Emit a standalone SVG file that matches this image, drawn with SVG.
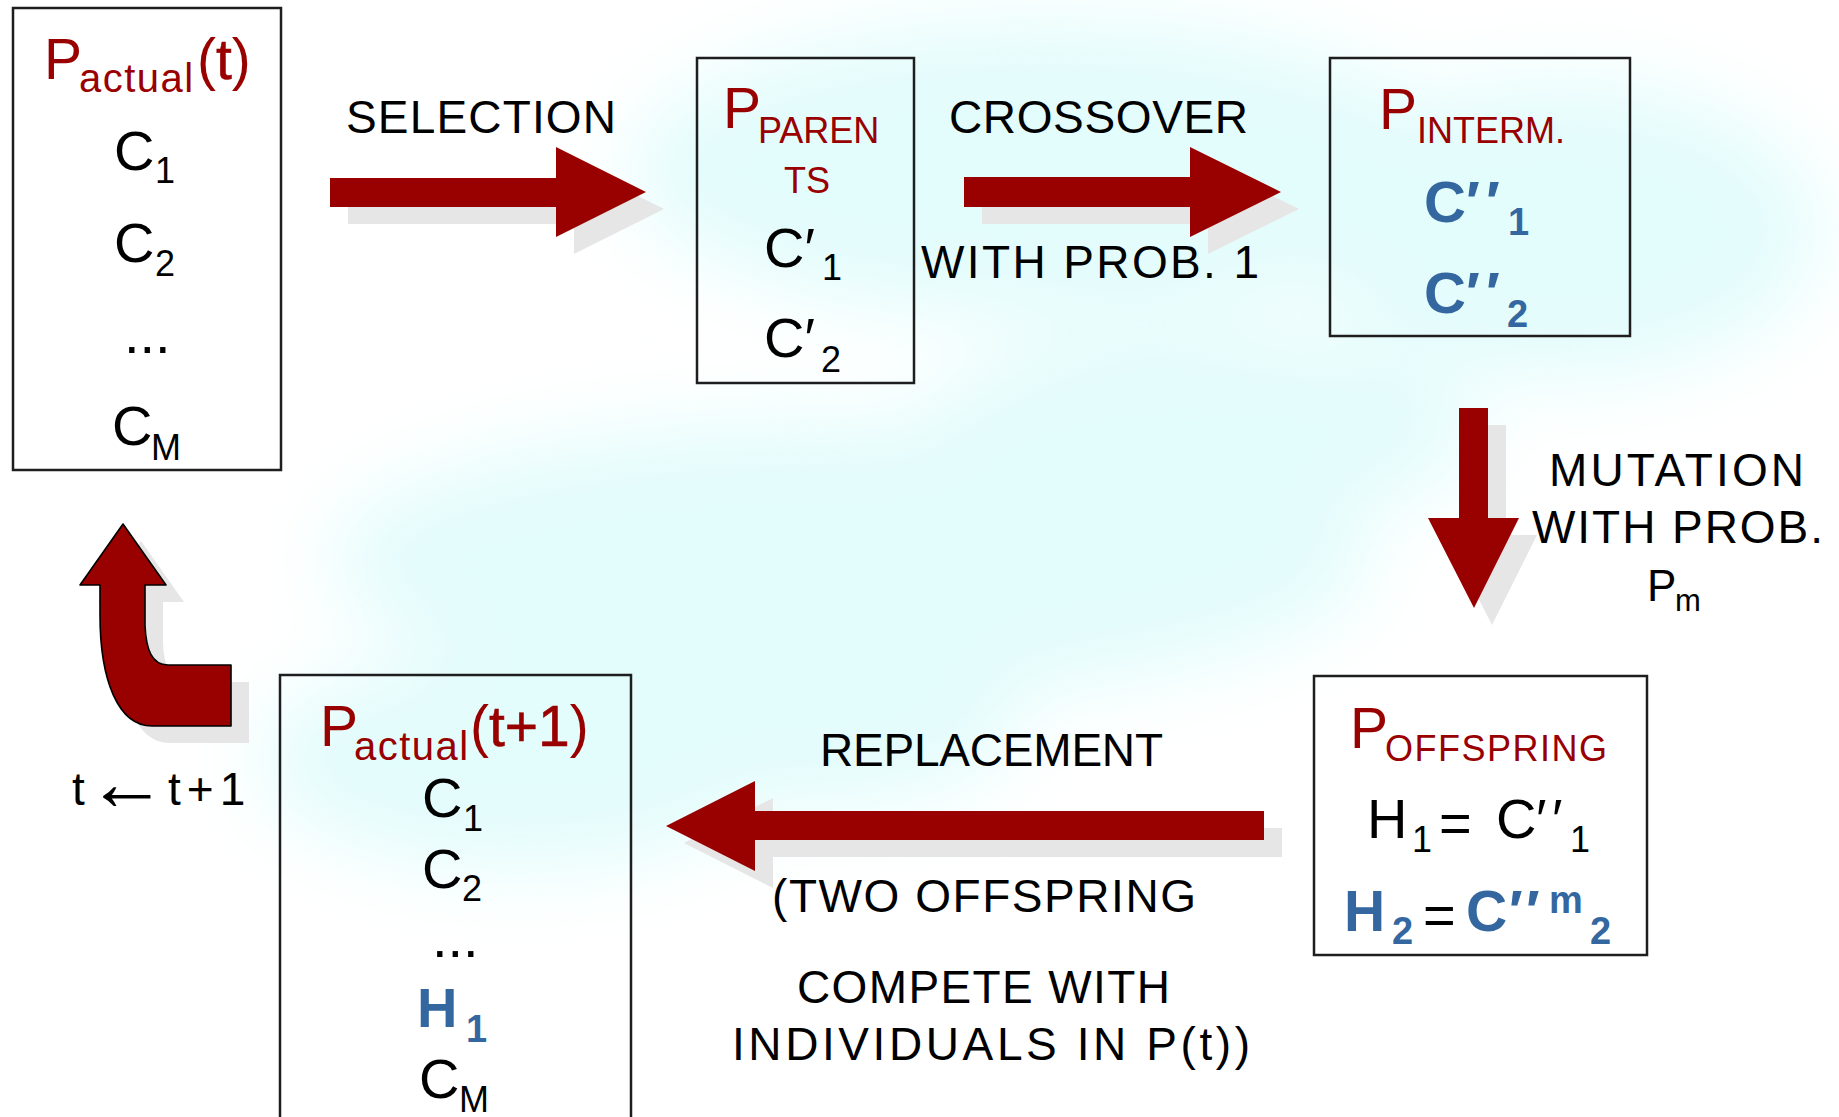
<svg xmlns="http://www.w3.org/2000/svg" width="1839" height="1117" viewBox="0 0 1839 1117">
<defs>
<style>
.t{font-family:"Liberation Sans",Arial,sans-serif;fill:#000}
.lbl{font-size:46px}
.big{font-size:56px}
.sub{font-size:36px}
.red{fill:#990000}
.blue{fill:#34679f;font-weight:bold}
.heavy{stroke:#990000;stroke-width:0.6}
.box{fill:none;stroke:#1e1e1e;stroke-width:2.5}
.arrow{fill:#990000}
.curl{fill:#990000;stroke:#000;stroke-width:1.6;stroke-linejoin:round}
.shadow{fill:#e6e6e6}
</style>
<filter id="haze" x="-50%" y="-50%" width="200%" height="200%">
<feGaussianBlur stdDeviation="40"/>
</filter>
</defs>

<!-- soft cyan backdrop -->
<rect width="1839" height="1117" fill="#ffffff"/>
<g filter="url(#haze)" fill="#e3fcfc">
<ellipse cx="1050" cy="170" rx="420" ry="150"/>
<ellipse cx="1560" cy="230" rx="260" ry="150"/>
<ellipse cx="850" cy="560" rx="520" ry="140"/>
<ellipse cx="1200" cy="430" rx="280" ry="100"/>
<ellipse cx="520" cy="760" rx="260" ry="110"/>
<ellipse cx="800" cy="720" rx="220" ry="90"/>
</g>

<!-- connectors: block arrows with drop shadows -->
<g id="connectors">
<g id="arrow-selection">
<path class="shadow" transform="translate(18,17)" d="M330,178 H556 V147 L646,192 L556,237 V207 H330 Z"/>
<path class="arrow" d="M330,178 H556 V147 L646,192 L556,237 V207 H330 Z"/>
</g>
<g id="arrow-crossover">
<path class="shadow" transform="translate(18,17)" d="M964,177 H1190 V147 L1281,192 L1190,237 V207 H964 Z"/>
<path class="arrow" d="M964,177 H1190 V147 L1281,192 L1190,237 V207 H964 Z"/>
</g>
<g id="arrow-mutation">
<path class="shadow" transform="translate(18,17)" d="M1459,408 H1488 V518 H1519 L1474,608 L1428,518 H1459 Z"/>
<path class="arrow" d="M1459,408 H1488 V518 H1519 L1474,608 L1428,518 H1459 Z"/>
</g>
<g id="arrow-replacement">
<path class="shadow" transform="translate(18,17)" d="M1264,811 H755 V781 L666,826 L755,871 V840 H1264 Z"/>
<path class="arrow" d="M1264,811 H755 V781 L666,826 L755,871 V840 H1264 Z"/>
</g>
<g id="arrow-loop">
<path class="shadow" transform="translate(18,17)" d="M123,524 L166,585 L145,585 L145,625 C146,650 152,665 168,665 L231,665 L231,726 L152,726 C118,726 100,680 100,615 L100,585 L80,585 Z"/>
<path class="curl" d="M123,524 L166,585 L145,585 L145,625 C146,650 152,665 168,665 L231,665 L231,726 L152,726 C118,726 100,680 100,615 L100,585 L80,585 Z"/>
</g>
</g>

<!-- connector labels -->
<g id="labels">
<text class="t lbl" x="346" y="133" textLength="270" lengthAdjust="spacing">SELECTION</text>
<text class="t lbl" x="949" y="133" textLength="299" lengthAdjust="spacing">CROSSOVER</text>
<text class="t lbl" x="921" y="278" textLength="338" lengthAdjust="spacing">WITH PROB. 1</text>
<text class="t lbl" x="1549" y="486" textLength="255" lengthAdjust="spacing">MUTATION</text>
<text class="t lbl" x="1532" y="543" textLength="291" lengthAdjust="spacing">WITH PROB.</text>
<text class="t"><tspan x="1647" y="601" style="font-size:44px">P</tspan><tspan x="1675" y="611" style="font-size:31px">m</tspan></text>
<text class="t lbl" x="820" y="766" textLength="343" lengthAdjust="spacing">REPLACEMENT</text>
<text class="t lbl" x="772" y="912" textLength="424" lengthAdjust="spacing">(TWO OFFSPRING</text>
<text class="t lbl" x="797" y="1003" textLength="373" lengthAdjust="spacing">COMPETE WITH</text>
<text class="t lbl" x="732" y="1060" textLength="518" lengthAdjust="spacing">INDIVIDUALS IN P(t))</text>
<text class="t lbl"><tspan x="72" y="805">t</tspan><tspan x="87" y="810" style="font-size:80px">←</tspan><tspan x="168" y="805" style="letter-spacing:6px">t+1</tspan></text>
</g>

<!-- population P_actual(t) -->
<g id="node-actual-t">
<rect class="box" x="13" y="8" width="268" height="462"/>
<text class="t red"><tspan x="44" y="79" style="font-size:57px">P</tspan><tspan x="79" y="92" style="font-size:40px;letter-spacing:1.5px">actual</tspan><tspan x="197" y="79" style="font-size:57px">(<tspan class="heavy">t</tspan>)</tspan></text>
<text class="t"><tspan class="big" x="114" y="170">C</tspan><tspan class="sub" x="155" y="183">1</tspan></text>
<text class="t"><tspan class="big" x="114" y="262">C</tspan><tspan class="sub" x="155" y="276">2</tspan></text>
<text class="t big" x="124" y="353">...</text>
<text class="t"><tspan class="big" x="112" y="445">C</tspan><tspan class="sub" x="151" y="460">M</tspan></text>
</g>

<!-- population P_parents -->
<g id="node-parents">
<rect class="box" x="697" y="58" width="217" height="325"/>
<text class="t red"><tspan x="723" y="128" style="font-size:57px">P</tspan><tspan x="758" y="143" style="font-size:36px">PAREN</tspan><tspan x="784" y="193" style="font-size:36px">TS</tspan></text>
<text class="t"><tspan class="big" x="764" y="267">C′</tspan><tspan class="sub" x="822" y="280">1</tspan></text>
<text class="t"><tspan class="big" x="764" y="357">C′</tspan><tspan class="sub" x="821" y="372">2</tspan></text>
</g>

<!-- population P_interm. -->
<g id="node-interm">
<rect class="box" x="1330" y="58" width="300" height="278"/>
<text class="t red"><tspan x="1379" y="129" style="font-size:57px">P</tspan><tspan x="1417" y="143" style="font-size:36px">INTERM.</tspan></text>
<text class="t blue" style="font-size:58px"><tspan x="1424" y="222">C</tspan><tspan x="1466" y="222">′</tspan><tspan x="1486" y="222">′</tspan><tspan x="1508" y="235" style="font-size:38px">1</tspan></text>
<text class="t blue" style="font-size:58px"><tspan x="1424" y="313">C</tspan><tspan x="1466" y="313">′</tspan><tspan x="1486" y="313">′</tspan><tspan x="1507" y="327" style="font-size:38px">2</tspan></text>
</g>

<!-- population P_offspring -->
<g id="node-offspring">
<rect class="box" x="1314" y="676" width="333" height="279"/>
<text class="t red"><tspan x="1350" y="748" style="font-size:57px">P</tspan><tspan x="1385" y="761" style="font-size:36px;letter-spacing:1.5px">OFFSPRING</tspan></text>
<text class="t"><tspan class="big" x="1367" y="838">H</tspan><tspan class="sub" x="1412" y="852">1</tspan><tspan class="big" x="1439" y="842">=</tspan><tspan class="big" x="1496" y="838">C</tspan><tspan class="big" x="1536" y="838">′</tspan><tspan class="big" x="1552" y="838">′</tspan><tspan class="sub" x="1570" y="852">1</tspan></text>
<text class="t"><tspan class="blue" x="1344" y="931" style="font-size:57px">H</tspan><tspan class="blue" x="1392" y="944" style="font-size:38px">2</tspan><tspan class="big" x="1423" y="934">=</tspan><tspan class="blue" x="1466" y="931" style="font-size:57px">C</tspan><tspan class="blue" x="1509" y="931" style="font-size:57px">′</tspan><tspan class="blue" x="1526" y="931" style="font-size:57px">′</tspan><tspan class="blue" x="1549" y="913" style="font-size:38px">m</tspan><tspan class="blue" x="1590" y="944" style="font-size:38px">2</tspan></text>
</g>

<!-- population P_actual(t+1) -->
<g id="node-actual-t1">
<rect class="box" x="280" y="675" width="351" height="460"/>
<text class="t red"><tspan x="320" y="746" style="font-size:57px">P</tspan><tspan x="354" y="760" style="font-size:40px;letter-spacing:1.5px">actual</tspan><tspan x="470" y="746" style="font-size:57px">(<tspan class="heavy">t+1</tspan>)</tspan></text>
<text class="t"><tspan class="big" x="422" y="817">C</tspan><tspan class="sub" x="463" y="831">1</tspan></text>
<text class="t"><tspan class="big" x="422" y="888">C</tspan><tspan class="sub" x="462" y="901">2</tspan></text>
<text class="t big" x="432" y="957">...</text>
<text class="t blue"><tspan x="417" y="1027" style="font-size:56px">H</tspan><tspan x="466" y="1042" style="font-size:38px">1</tspan></text>
<text class="t"><tspan class="big" x="419" y="1098">C</tspan><tspan class="sub" x="459" y="1112">M</tspan></text>
</g>
</svg>
